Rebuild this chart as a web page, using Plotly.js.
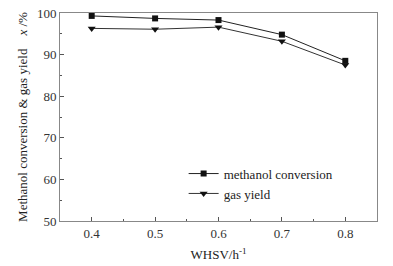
<!DOCTYPE html>
<html><head><meta charset="utf-8">
<script src="https://cdn.plot.ly/plotly-3.0.1.min.js"></script>
<style>body{margin:0;background:#fff}#c{width:393px;height:266px}</style>
</head><body><div id="c"></div>
<script>
const whsv = [0.4, 0.5, 0.6, 0.7, 0.8];
const methanolConversion = [99.3, 98.7, 98.3, 94.8, 88.5];
const gasYield = [96.3, 96.1, 96.6, 93.2, 87.5];
const xTicks = [0.4, 0.5, 0.6, 0.7, 0.8];
const yTicks = [50, 60, 70, 80, 90, 100];

const font = {family: '"Liberation Serif", "Times New Roman", serif', color: '#222', size: 13};
const traces = [
  {x: whsv, y: methanolConversion, name: 'methanol conversion', mode: 'lines+markers',
   line: {color: '#222', width: 1}, marker: {symbol: 'square', size: 6, color: '#111'}},
  {x: whsv, y: gasYield, name: 'gas yield', mode: 'lines+markers',
   line: {color: '#333', width: 1}, marker: {symbol: 'triangle-down', size: 7, color: '#111'}}
];
const axisCommon = {showgrid: false, zeroline: false, showline: true, mirror: true,
  linecolor: '#888', linewidth: 1, ticks: 'inside', ticklen: 4, tickcolor: '#555',
  tickfont: {family: font.family, size: 13, color: '#333'}};
const layout = {
  width: 393, height: 266, paper_bgcolor: '#fff', plot_bgcolor: '#fff',
  margin: {l: 60, r: 16, t: 13, b: 45},
  font: font, showlegend: true,
  legend: {x: 0.39, y: 0.3, xanchor: 'left', yanchor: 'top', bgcolor: 'rgba(0,0,0,0)',
    font: {family: font.family, size: 13, color: '#222'}, tracegroupgap: 0, itemwidth: 30},
  xaxis: Object.assign({}, axisCommon, {range: [0.35, 0.85], tickvals: xTicks,
    ticktext: xTicks.map(v => v.toFixed(1)),
    minor: {ticks: 'inside', ticklen: 2, tickcolor: '#555', dtick: 0.05, tick0: 0.35},
    title: {text: 'WHSV/h<sup>-1</sup>', font: {family: font.family, size: 13, color: '#222'}, standoff: 10}}),
  yaxis: Object.assign({}, axisCommon, {range: [50, 100], tickvals: yTicks,
    minor: {ticks: 'inside', ticklen: 2, tickcolor: '#555', dtick: 5, tick0: 50},
    title: {text: 'Methanol conversion &amp; gas yield    <i>x</i> /%', font: {family: font.family, size: 13, color: '#222'}, standoff: 6}})
};
Plotly.newPlot('c', traces, layout, {displayModeBar: false, staticPlot: true});
</script></body></html>
